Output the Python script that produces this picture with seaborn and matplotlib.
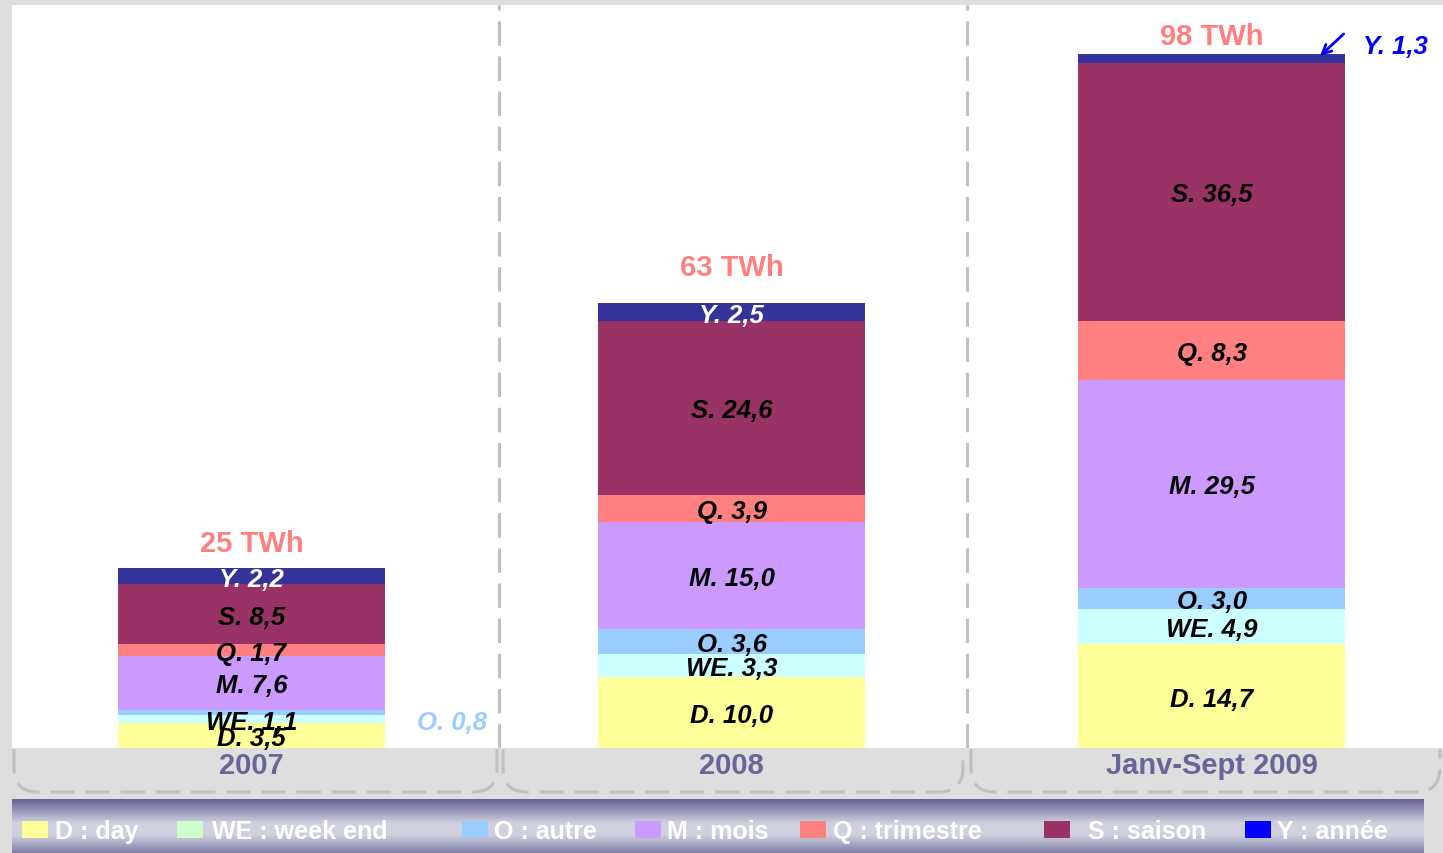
import numpy as np
import pandas as pd
import seaborn as sns
import matplotlib.pyplot as plt
from matplotlib.path import Path
from matplotlib.patches import PathPatch, Rectangle

# data (TWh)
periods = ['2007', '2008', 'Janv-Sept 2009']
components = ['D', 'WE', 'O', 'M', 'Q', 'S', 'Y']
legend_labels = ['D : day', 'WE : week end', 'O : autre', 'M : mois',
                 'Q : trimestre', 'S : saison', 'Y : année']
d_day = [3.5, 10.0, 14.7]
we_weekend = [1.1, 3.3, 4.9]
o_autre = [0.8, 3.6, 3.0]
m_mois = [7.6, 15.0, 29.5]
q_trimestre = [1.7, 3.9, 8.3]
s_saison = [8.5, 24.6, 36.5]
y_annee = [2.2, 2.5, 1.3]
total_labels = ['25 TWh', '63 TWh', '98 TWh']

bar_colors = ['#FFFF99', '#CCFFFF', '#99CCFF', '#CC99FF', '#FF8080', '#993366', '#333399']
legend_colors = ['#FFFF99', '#CCFFCC', '#99CCFF', '#CC99FF', '#FF8080', '#993366', '#0000FF']

W, H = 1443, 854
FONT = 'Liberation Sans'

sns.set_style('white')
plt.rcParams['font.family'] = [FONT, 'DejaVu Sans']

values = [d_day, we_weekend, o_autre, m_mois, q_trimestre, s_saison, y_annee]
cum = np.cumsum(np.array(values), axis=0)
df = pd.DataFrame({'period': periods})
for name, c in zip(components, cum):
    df[name] = c

fig = plt.figure(figsize=(W / 100, H / 100), dpi=100, facecolor='#dedede')
ax = fig.add_axes([12 / W, (H - 749) / H, (W - 12) / W, (749 - 6) / H])
ax.set_facecolor('white')

# stacked bars: draw cumulative totals from top layer down
for i in reversed(range(len(components))):
    sns.barplot(data=df, x='period', y=components[i], color=bar_colors[i],
                width=0.556, saturation=1, linewidth=0, errorbar=None,
                ax=ax, zorder=2)

ax.set_xlim(-0.499, 2.482)
ax.set_ylim(0, 105.1)
ax.set_xlabel('')
ax.set_ylabel('')
ax.set_yticks([])
ax.set_xticks(range(len(periods)))
ax.set_xticklabels(periods, color='#666699', fontsize=21, fontweight='bold')
ax.tick_params(axis='x', length=0, pad=2.5)
for sp in ax.spines.values():
    sp.set_visible(False)

# segment labels
lab_kw = dict(ha='center', va='center_baseline', fontsize=18.5, fontweight='bold',
              fontstyle='italic', zorder=5)
for j in range(len(periods)):
    for i, name in enumerate(components):
        v = values[i][j]
        txt = f"{name}. " + f"{v:.1f}".replace('.', ',')
        if name == 'O' and j == 0:
            ax.text(0.418, 4.0, txt, color='#99CCFF', **lab_kw)
        elif name == 'Y' and j == 2:
            ax.text(2.382, 99.6, txt, color='#0000FF', **lab_kw)
            ax.annotate('', xy=(2.226, 97.9), xytext=(2.275, 101.0),
                        arrowprops=dict(arrowstyle='->', color='#0000FF', lw=2,
                                        mutation_scale=16, shrinkA=0, shrinkB=0))
        else:
            color = 'white' if name == 'Y' else 'black'
            ax.text(j, cum[i, j] - v / 2, txt, color=color, **lab_kw)

# totals
total_offsets = [4.0, 5.6, 2.9]
for j, lab in enumerate(total_labels):
    ax.text(j, cum[-1, j] + total_offsets[j], lab, ha='center', va='center_baseline',
            color='#FF8080', fontsize=21, fontweight='bold', zorder=5)

# dashed separators
dash = (8, 3.5)
for xs in [0.5156, 1.4906]:
    ax.axvline(xs, color='#c0c0c0', lw=2.2, dashes=dash, zorder=1)


def fpx(x, y):
    return (x / W, 1 - y / H)


# rounded bottoms of the category brackets
r = 24
for xl, xr in [(14, 497), (503, 963), (971, 1440)]:
    verts = [fpx(xl, 750), fpx(xl, 793 - r), fpx(xl, 793), fpx(xl + r, 793),
             fpx(xr - r, 793), fpx(xr, 793), fpx(xr, 793 - r), fpx(xr, 750)]
    codes = [Path.MOVETO, Path.LINETO, Path.CURVE3, Path.CURVE3,
             Path.LINETO, Path.CURVE3, Path.CURVE3, Path.LINETO]
    patch = PathPatch(Path(verts, codes), fill=False, edgecolor='#c0c0c0',
                      lw=2.2, linestyle=(0, dash), transform=fig.transFigure)
    fig.add_artist(patch)

# legend band with gradient
lax = fig.add_axes([12 / W, 0, (1424 - 12) / W, 54 / H])
ys = np.linspace(800, 854, 60)
t = np.interp(ys, [800, 824, 836, 854], [0.0, 1.0, 1.0, 0.25])
dark = np.array([100, 100, 150]) / 255
light = np.array([208, 208, 224]) / 255
grad = dark[None, :] * (1 - t[:, None]) + light[None, :] * t[:, None]
grad = np.repeat(grad[:, None, :], 2, axis=1)
lax.imshow(grad, aspect='auto', extent=(12, 1424, 854, 800), zorder=0)
lax.set_xlim(12, 1424)
lax.set_ylim(854, 800)
lax.axis('off')

sq_x = [22, 177, 462, 635, 800, 1044, 1245]
tx_x = [55, 212, 494, 667, 833, 1088, 1277]
for lab, col, sx, tx in zip(legend_labels, legend_colors, sq_x, tx_x):
    lax.add_patch(Rectangle((sx, 822), 26, 17, facecolor=col, edgecolor='none', zorder=2))
    lax.text(tx, 832, lab, ha='left', va='center', color='white',
             fontsize=18, fontweight='bold', zorder=3)

fig.savefig('out.png', dpi=100, facecolor=fig.get_facecolor())
